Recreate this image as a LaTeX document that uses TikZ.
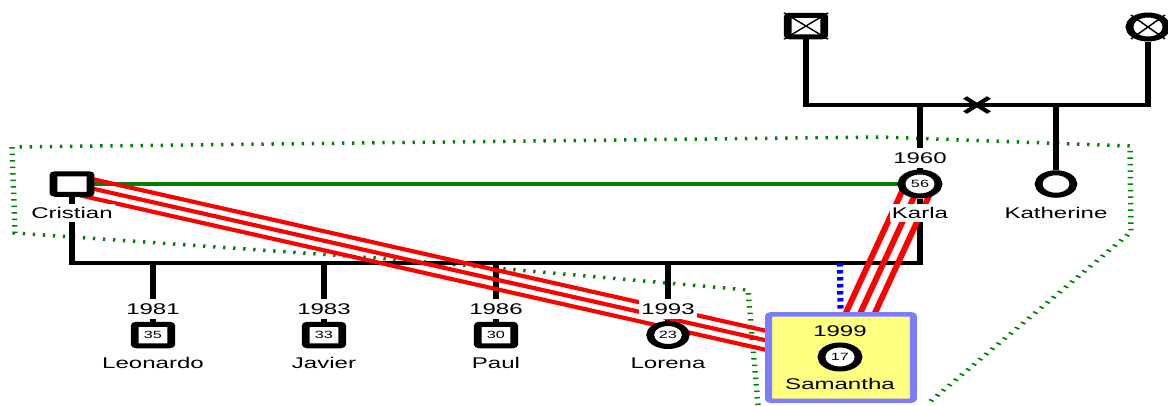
\documentclass[tikz,border=0pt]{standalone}
\usepackage{fontspec}
\setmainfont{Liberation Sans}
\usetikzlibrary{calc}
\pgfdeclarelayer{fg}
\pgfsetlayers{main,fg}
\definecolor{bndgreen}{RGB}{0,128,0}
\definecolor{relgreen}{RGB}{0,128,0}
\definecolor{sambord}{RGB}{125,125,255}
\definecolor{samfill}{RGB}{255,255,128}
\tikzset{
 canv/.style={x=0.64516pt, y=-1pt, transform canvas={xscale=1.55}},
 person/.style={draw=black, line width=5pt, fill=white, inner sep=0pt, font=\fontsize{10.5}{12}\selectfont},
 male/.style={person, rectangle, rounded corners=1.5pt, minimum width=23.5pt, minimum height=21.5pt},
 female/.style={person, circle, minimum size=24pt},
 namelbl/.style={font=\fontsize{15.5}{18}\selectfont, text height=11.2pt, text depth=0pt, inner xsep=1.5pt, inner ysep=3pt, fill=white},
 yearlbl/.style={namelbl, inner ysep=4pt},
 plainlbl/.style={font=\fontsize{15.5}{18}\selectfont, text height=11.2pt, text depth=0pt, inner sep=0pt},
 rel/.style={draw=black, line width=3.5pt},
 hostile/.style={draw=red, line width=4pt},
 boundary/.style={draw=bndgreen, line width=3.5pt, dash pattern=on 1.5pt off 5pt},
 adopt/.style={draw=blue, line width=4pt, dash pattern=on 3.5pt off 3.5pt},
 bond/.style={draw=relgreen, line width=4pt},
}
\begin{document}
\begin{tikzpicture}[x=1pt,y=-1pt]
\useasboundingbox (0,0) rectangle (1168,405);
% ---------- person symbols (front layer) ----------
\begin{pgfonlayer}{fg}
\begin{scope}[canv]
\node[male] (gf) at (806,26) {};
\draw[line width=1.2pt] (gf.north west) -- (gf.south east) (gf.north east) -- (gf.south west);
\node[female] (gm) at (1148,27) {};
\draw[line width=1.2pt] ($(gm)+(-17,-12)$) -- ($(gm)+(17,12)$) ($(gm)+(17,-12)$) -- ($(gm)+(-17,12)$);
\node[male, minimum width=24pt, minimum height=20.5pt] (cris) at (72,184) {};
\node[female] (karla) at (920,184) {56};
\node[female, minimum size=22.5pt] (kath) at (1056,184) {};
\node[male] (leo) at (153,335) {35};
\node[male] (jav) at (324,335) {33};
\node[male] (paul) at (496,335) {30};
\node[female, minimum size=23pt] (lor) at (668,335) {23};
\node[draw=sambord, fill=samfill, line width=4.5pt, rounded corners=2pt, minimum width=93.5pt, minimum height=86.5pt] (sambox) at (841,357.5) {};
\node[female] (sam) at (840,357) {17};
\node[plainlbl] (samyr) at (840,331) {1999};
\node[plainlbl] (samname) at (840,384) {Samantha};
\end{scope}
\end{pgfonlayer}
% ---------- lines and labels ----------
\begin{scope}[canv]
\draw[boundary] (758,405) -- (748,290) -- (390,259) -- (15,233) -- (12,147) -- (880,137) -- (1130,146) -- (1131,232) -- (926,405);
% grandparents
\coordinate (gL) at (806,105);
\coordinate (gR) at (1148,105);
\draw[rel] (gf) -- (gL) -- (gR) -- (gm);
\draw[line width=3.5pt] (977,105) +(-12,-7.5) -- +(12,7.5) +(12,-7.5) -- +(-12,7.5);
\coordinate (jK) at (920,105);
\coordinate (jKat) at (1056,105);
\draw[rel] (jK) -- (karla);
\draw[rel] (jKat) -- (kath);
% Cristian - Karla union
\coordinate (uL) at (72,263);
\coordinate (uR) at (920,263);
\draw[rel] (cris) -- (uL) -- (uR) -- (karla);
\coordinate (jLeo) at (153,263);
\coordinate (jJav) at (324,263);
\coordinate (jPaul) at (496,263);
\coordinate (jLor) at (668,263);
\coordinate (jSam) at (840,263);
\draw[rel] (jLeo) -- (leo);
\draw[rel] (jJav) -- (jav);
\draw[rel] (jPaul) -- (paul);
\draw[rel] (jLor) -- (lor);
\draw[adopt] (jSam) -- (sambox);
\draw[bond] (cris) -- (karla);
% hostile relations
\draw[hostile] ($(cris)!9pt!90:(sam)$) -- ($(sam)!9pt!-90:(cris)$);
\draw[hostile] (cris.center) -- (sam.center);
\draw[hostile] ($(cris)!9pt!-90:(sam)$) -- ($(sam)!9pt!90:(cris)$);
\draw[hostile] ($(karla)!9pt!90:(sam)$) -- ($(sam)!9pt!-90:(karla)$);
\draw[hostile] (karla.center) -- (sam.center);
\draw[hostile] ($(karla)!9pt!-90:(sam)$) -- ($(sam)!9pt!90:(karla)$);
% labels
\node[namelbl] (ncris) at (72,213) {Cristian};
\node[yearlbl] (ykarla) at (920,158) {1960};
\node[namelbl] (nkarla) at (920,213) {Karla};
\node[namelbl] (nkath) at (1056,213) {Katherine};
\node[yearlbl] (yleo) at (153,309) {1981};
\node[yearlbl] (yjav) at (324,309) {1983};
\node[yearlbl] (ypaul) at (496,309) {1986};
\node[yearlbl] (ylor) at (668,309) {1993};
\node[namelbl] (nleo) at (153,363) {Leonardo};
\node[namelbl] (njav) at (324,363) {Javier};
\node[namelbl] (npaul) at (496,363) {Paul};
\node[namelbl] (nlor) at (668,363) {Lorena};
\end{scope}
\end{tikzpicture}
\end{document}
